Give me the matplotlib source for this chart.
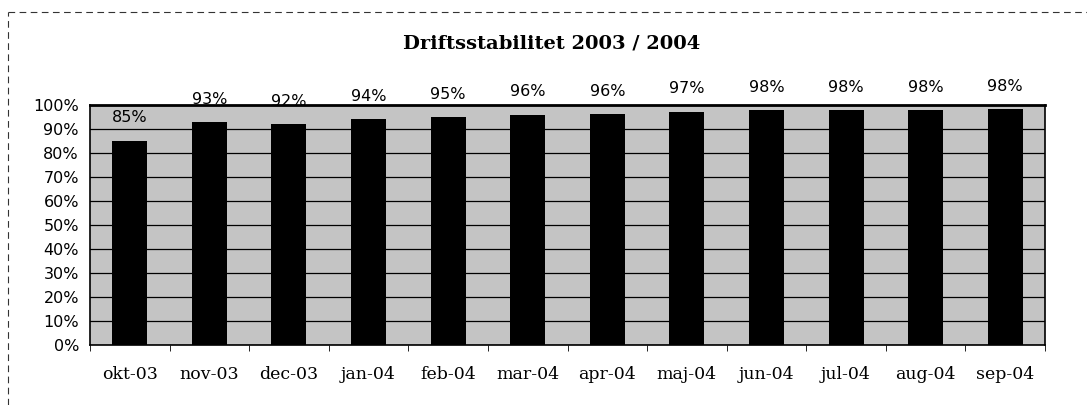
import matplotlib
matplotlib.use("Agg")
import matplotlib.pyplot as plt
from matplotlib.lines import Line2D
import numpy as np

categories = ["okt-03", "nov-03", "dec-03", "jan-04", "feb-04", "mar-04",
              "apr-04", "maj-04", "jun-04", "jul-04", "aug-04", "sep-04"]
values = [0.852, 0.93, 0.92, 0.94, 0.95, 0.96, 0.963, 0.972, 0.978, 0.978, 0.98, 0.984]
yticks = [0, 0.1, 0.2, 0.3, 0.4, 0.5, 0.6, 0.7, 0.8, 0.9, 1.0]
title = "Driftsstabilitet 2003 / 2004"

fig = plt.figure(figsize=(10.87, 4.05), dpi=100)
ax = fig.add_axes([90/1087, 1-345/405, (1045-90)/1087, (345-105)/405])
ax.set_facecolor("#c4c4c4")

x = np.arange(len(categories))
ax.bar(x, values, width=0.44, color="black", zorder=3)
for xi, v in zip(x, values):
    ax.annotate(f"{v*100:.0f}%", (xi, v), xytext=(0, 11), textcoords="offset points",
                ha="center", va="bottom", fontsize=11.5, family="DejaVu Sans",
                annotation_clip=False, zorder=4)

ax.set_xlim(-0.5, len(categories) - 0.5)
ax.set_ylim(0, 1.0)
ax.set_yticks(yticks)
ax.set_yticklabels([f"{t*100:.0f}%" for t in yticks], fontsize=11.5, family="DejaVu Sans")
ax.set_xticks(x)
ax.set_xticklabels(categories, fontsize=12.5, family="DejaVu Serif")
ax.tick_params(axis="x", length=0, pad=15)
ax.tick_params(axis="y", length=0, pad=8)
ax.set_xticks(np.arange(-0.5, len(categories)), minor=True)
ax.tick_params(axis="x", which="minor", length=4, direction="out", color="black")
ax.yaxis.grid(True, color="black", linewidth=0.9, zorder=1)
ax.set_axisbelow(True)
for s in ax.spines.values():
    s.set_color("black")
    s.set_linewidth(1.2)
ax.spines["top"].set_linewidth(2)

fig.text(552/1087, 1-43/405, title, ha="center", va="center",
         fontsize=14, fontweight="bold", family="DejaVu Serif")

# dashed frame (top and left edges)
fig.add_artist(Line2D([8/1087, 1], [1-12/405, 1-12/405], transform=fig.transFigure,
                      color="#333333", linewidth=0.8, linestyle=(0, (6, 4))))
fig.add_artist(Line2D([8/1087, 8/1087], [0, 1-12/405], transform=fig.transFigure,
                      color="#333333", linewidth=0.8, linestyle=(0, (6, 4))))

fig.savefig("out.png", dpi=100)
